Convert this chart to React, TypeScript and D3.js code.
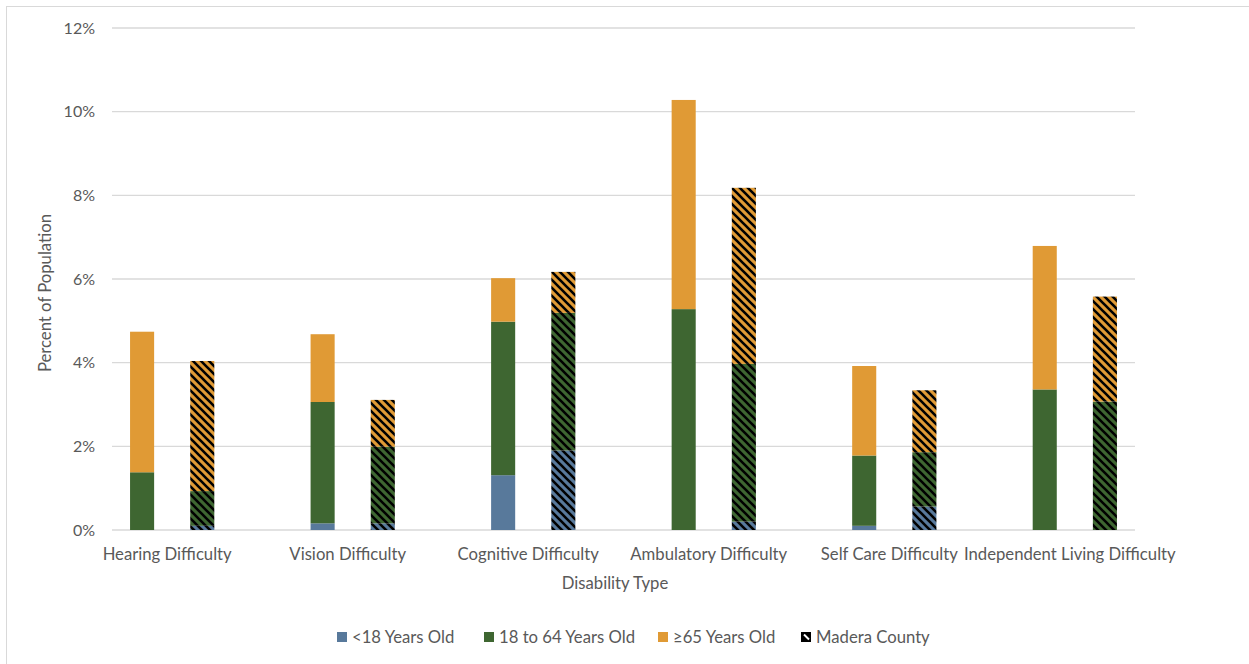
import React from "react";
import * as d3 from "d3";

const categories = [
  "Hearing Difficulty",
  "Vision Difficulty",
  "Cognitive Difficulty",
  "Ambulatory Difficulty",
  "Self Care Difficulty",
  "Independent Living Difficulty",
];
const seriesNames = ["<18 Years Old", "18 to 64 Years Old", "≥65 Years Old"];
// comparison (solid) bars, percent of population
const under18State = [0, 0.16, 1.31, 0, 0.1, 0];
const age18to64State = [1.38, 2.9, 3.67, 5.28, 1.68, 3.36];
const over65State = [3.36, 1.62, 1.04, 5.0, 2.14, 3.43];
// Madera County (hatched) bars
const under18Madera = [0.1, 0.16, 1.9, 0.2, 0.56, 0];
const age18to64Madera = [0.83, 1.83, 3.29, 3.77, 1.3, 3.07];
const over65Madera = [3.11, 1.12, 0.98, 4.21, 1.48, 2.51];
const yTicks = [0, 2, 4, 6, 8, 10, 12];

const colors = ["#58799b", "#3e6631", "#e09a35"];
const W = 1249;
const H = 664;
const FONT = "Lato, Carlito, 'Liberation Sans', sans-serif";
const TXT = "#595959";

export default function App() {
  const left = 112, right = 1135, top = 28, bottom = 530;
  // 17 slots: pairs of bars with an empty slot between groups
  const slots = d3.range(17);
  const x = d3.scaleBand<number>().domain(slots).range([left, right]).paddingInner(0.6).paddingOuter(0.3);
  const y = d3.scaleLinear().domain([0, 12]).range([bottom, top]);

  type Row = { slot: number; madera: boolean; a: number; b: number; c: number };
  const rows: Row[] = [];
  categories.forEach((_, i) => {
    rows.push({ slot: i * 3, madera: false, a: under18State[i], b: age18to64State[i], c: over65State[i] });
    rows.push({ slot: i * 3 + 1, madera: true, a: under18Madera[i], b: age18to64Madera[i], c: over65Madera[i] });
  });
  const stack = d3.stack<Row>().keys(["a", "b", "c"]);
  const stacked = stack(rows);
  const bw = x.bandwidth();

  const legendItems = [
    { label: seriesNames[0], fill: colors[0], x: 337 },
    { label: seriesNames[1], fill: colors[1], x: 484 },
    { label: seriesNames[2], fill: colors[2], x: 658 },
    { label: "Madera County", fill: "#000", x: 801 },
  ];

  return (
    <svg width={W} height={H} style={{ position: "absolute", left: 0, top: 0, background: "#fff" }} fontFamily={FONT}>
      <defs>
        {colors.map((c, i) => (
          <pattern key={i} id={`hatch${i}`} patternUnits="userSpaceOnUse" width={8} height={8}>
            <rect width={8} height={8} fill={c} />
            <path d="M-2,-2 L10,10 M-2,6 L2,10 M6,-2 L10,2" stroke="#000" strokeWidth={2.6} />
          </pattern>
        ))}
      </defs>
      <rect x={6.5} y={6.5} width={1300} height={700} fill="#fff" stroke="#d9d9d9" strokeWidth={1} />
      {yTicks.map((t) => (
        <g key={t}>
          <line x1={left} x2={right} y1={y(t)} y2={y(t)} stroke="#d9d9d9" strokeWidth={1.3} />
          <text x={95} y={y(t)} dy="0.35em" textAnchor="end" fontSize={16} fill={TXT}>
            {t}%
          </text>
        </g>
      ))}
      {stacked.map((layer, si) =>
        layer.map((d, j) => {
          const r = d.data;
          if (d[1] - d[0] <= 0) return null;
          return (
            <rect
              key={`${si}-${j}`}
              x={x(r.slot)}
              width={bw}
              y={y(d[1])}
              height={y(d[0]) - y(d[1])}
              fill={r.madera ? `url(#hatch${si})` : colors[si]}
            />
          );
        })
      )}
      {categories.map((c, i) => {
        const cx = ((x(i * 3) as number) + (x(i * 3 + 1) as number) + bw) / 2 - 5;
        return (
          <text key={c} x={cx} y={554} dy="0.35em" textAnchor="middle" fontSize={16.7} fill={TXT}>
            {c}
          </text>
        );
      })}
      <text x={615} y={583} dy="0.35em" textAnchor="middle" fontSize={16.7} fill={TXT}>
        Disability Type
      </text>
      <text transform={`translate(45,293) rotate(-90)`} dy="0.35em" textAnchor="middle" fontSize={16.7} fill={TXT}>
        Percent of Population
      </text>
      {legendItems.map((it) => (
        <g key={it.label}>
          <rect x={it.x} y={632} width={10} height={10} fill={it.fill} />
          {it.label === "Madera County" && (
            <path d={`M${it.x + 3},${632 + 2.5} L${it.x + 8},${632 + 7.5}`} stroke="#fff" strokeWidth={2} />
          )}
          <text x={it.x + 15} y={637} dy="0.35em" fontSize={16.7} fill={TXT}>
            {it.label}
          </text>
        </g>
      ))}
    </svg>
  );
}
